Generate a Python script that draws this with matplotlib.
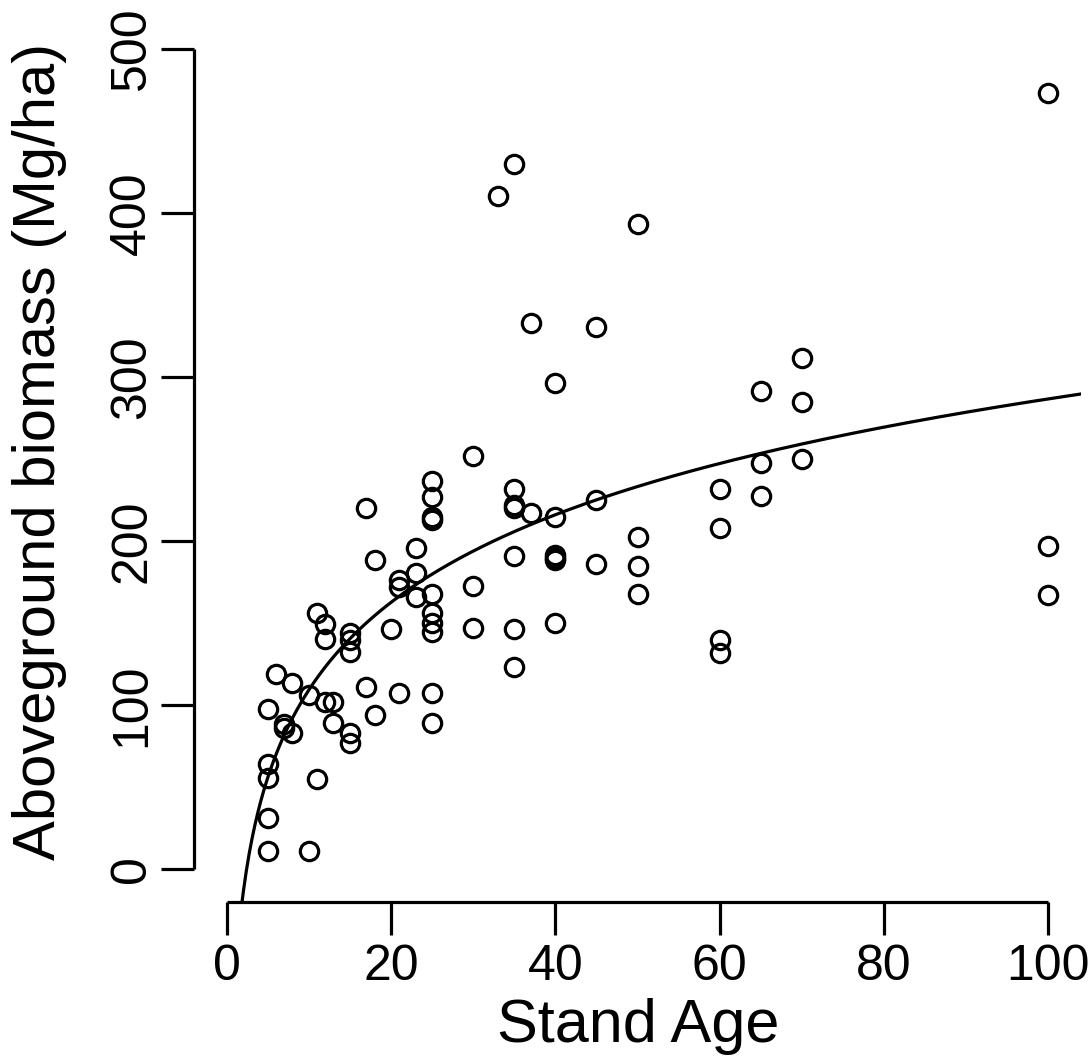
import numpy as np
import matplotlib
matplotlib.use("Agg")
import matplotlib.pyplot as plt

plt.rcParams['font.family'] = ['Liberation Sans', 'DejaVu Sans']

# Stand age (years) and aboveground biomass (Mg/ha)
stand_age = [5, 5, 5, 5, 5,
             6,
             7, 7,
             8, 8,
             10, 10,
             11, 11,
             12, 12, 12,
             13, 13,
             15, 15, 15, 15, 15,
             17, 17,
             18, 18,
             20,
             21, 21, 21,
             23, 23, 23,
             25, 25, 25, 25, 25, 25, 25, 25, 25, 25,
             30, 30, 30,
             33,
             35, 35, 35, 35, 35, 35, 35,
             37, 37,
             40, 40, 40, 40, 40, 40,
             45, 45, 45,
             50, 50, 50, 50,
             60, 60, 60, 60,
             65, 65, 65,
             70, 70, 70,
             100, 100, 100]
biomass = [97.7, 64.3, 56.0, 31.3, 11.2,
           119.0,
           88.6, 86.2,
           113.6, 83.2,
           106.0, 11.2,
           156.0, 55.1,
           149.6, 140.5, 102.0,
           102.0, 89.2,
           144.0, 139.6, 132.3, 83.1, 77.0,
           220.0, 111.0,
           188.5, 94.1,
           146.5,
           176.3, 172.0, 107.5,
           195.8, 180.6, 166.0,
           236.6, 227.0, 214.9, 212.9, 167.6, 156.4, 150.0, 144.8, 107.3, 89.2,
           252.0, 172.7, 147.3,
           410.0,
           429.6, 231.7, 222.0, 220.0, 190.9, 146.5, 123.1,
           332.8, 217.3,
           296.3, 214.9, 191.5, 189.5, 188.5, 150.0,
           330.6, 225.0, 185.9,
           393.1, 202.3, 185.0, 167.6,
           231.9, 207.8, 139.8, 132.0,
           291.4, 247.4, 227.5,
           311.7, 284.5, 249.8,
           472.9, 197.0, 167.2]

# logarithmic fit: biomass = a + b * ln(age)
fit_a = -68.0
fit_b = 77.0

x_ticks = [0, 20, 40, 60, 80, 100]
y_ticks = [0, 100, 200, 300, 400, 500]

W, H = 1089, 1057
fig = plt.figure(figsize=(W / 100, H / 100), dpi=100)
ax = fig.add_axes([193.8 / W, (H - 902.3) / H, 887.4 / W, 886.6 / H])

ax.plot(stand_age, biomass, linestyle='none', marker='o', markersize=13.2,
        markerfacecolor='none', markeredgecolor='black', markeredgewidth=2.3,
        clip_on=False)

xs = np.linspace(0.3, 104, 600)
ax.plot(xs, fit_a + fit_b * np.log(xs), color='black', linewidth=2.3)

ax.set_xlim(-4, 104)
ax.set_ylim(-20, 520)

for s in ['top', 'right']:
    ax.spines[s].set_visible(False)
for s in ['left', 'bottom']:
    ax.spines[s].set_linewidth(2.3)
    ax.spines[s].set_capstyle('butt')
ax.spines['left'].set_bounds(0, 500)
ax.spines['bottom'].set_bounds(0, 100)

ax.set_xticks(x_ticks)
ax.set_yticks(y_ticks)
ax.set_xticklabels([str(v) for v in x_ticks])
ax.set_yticklabels([str(v) for v in y_ticks], rotation=90, va='center')
ax.tick_params(axis='both', direction='out', length=23.8, width=2.3,
               labelsize=36)
ax.tick_params(axis='x', pad=6)
ax.tick_params(axis='y', pad=4)

fig.text(638 / W, (H - 1042) / H, 'Stand Age', fontsize=44,
         ha='center', va='baseline')
fig.text(55 / W, (H - 451) / H, 'Aboveground biomass (Mg/ha)', fontsize=43,
         rotation=90, rotation_mode='anchor', ha='center', va='baseline')

fig.savefig('out.png', dpi=100)
